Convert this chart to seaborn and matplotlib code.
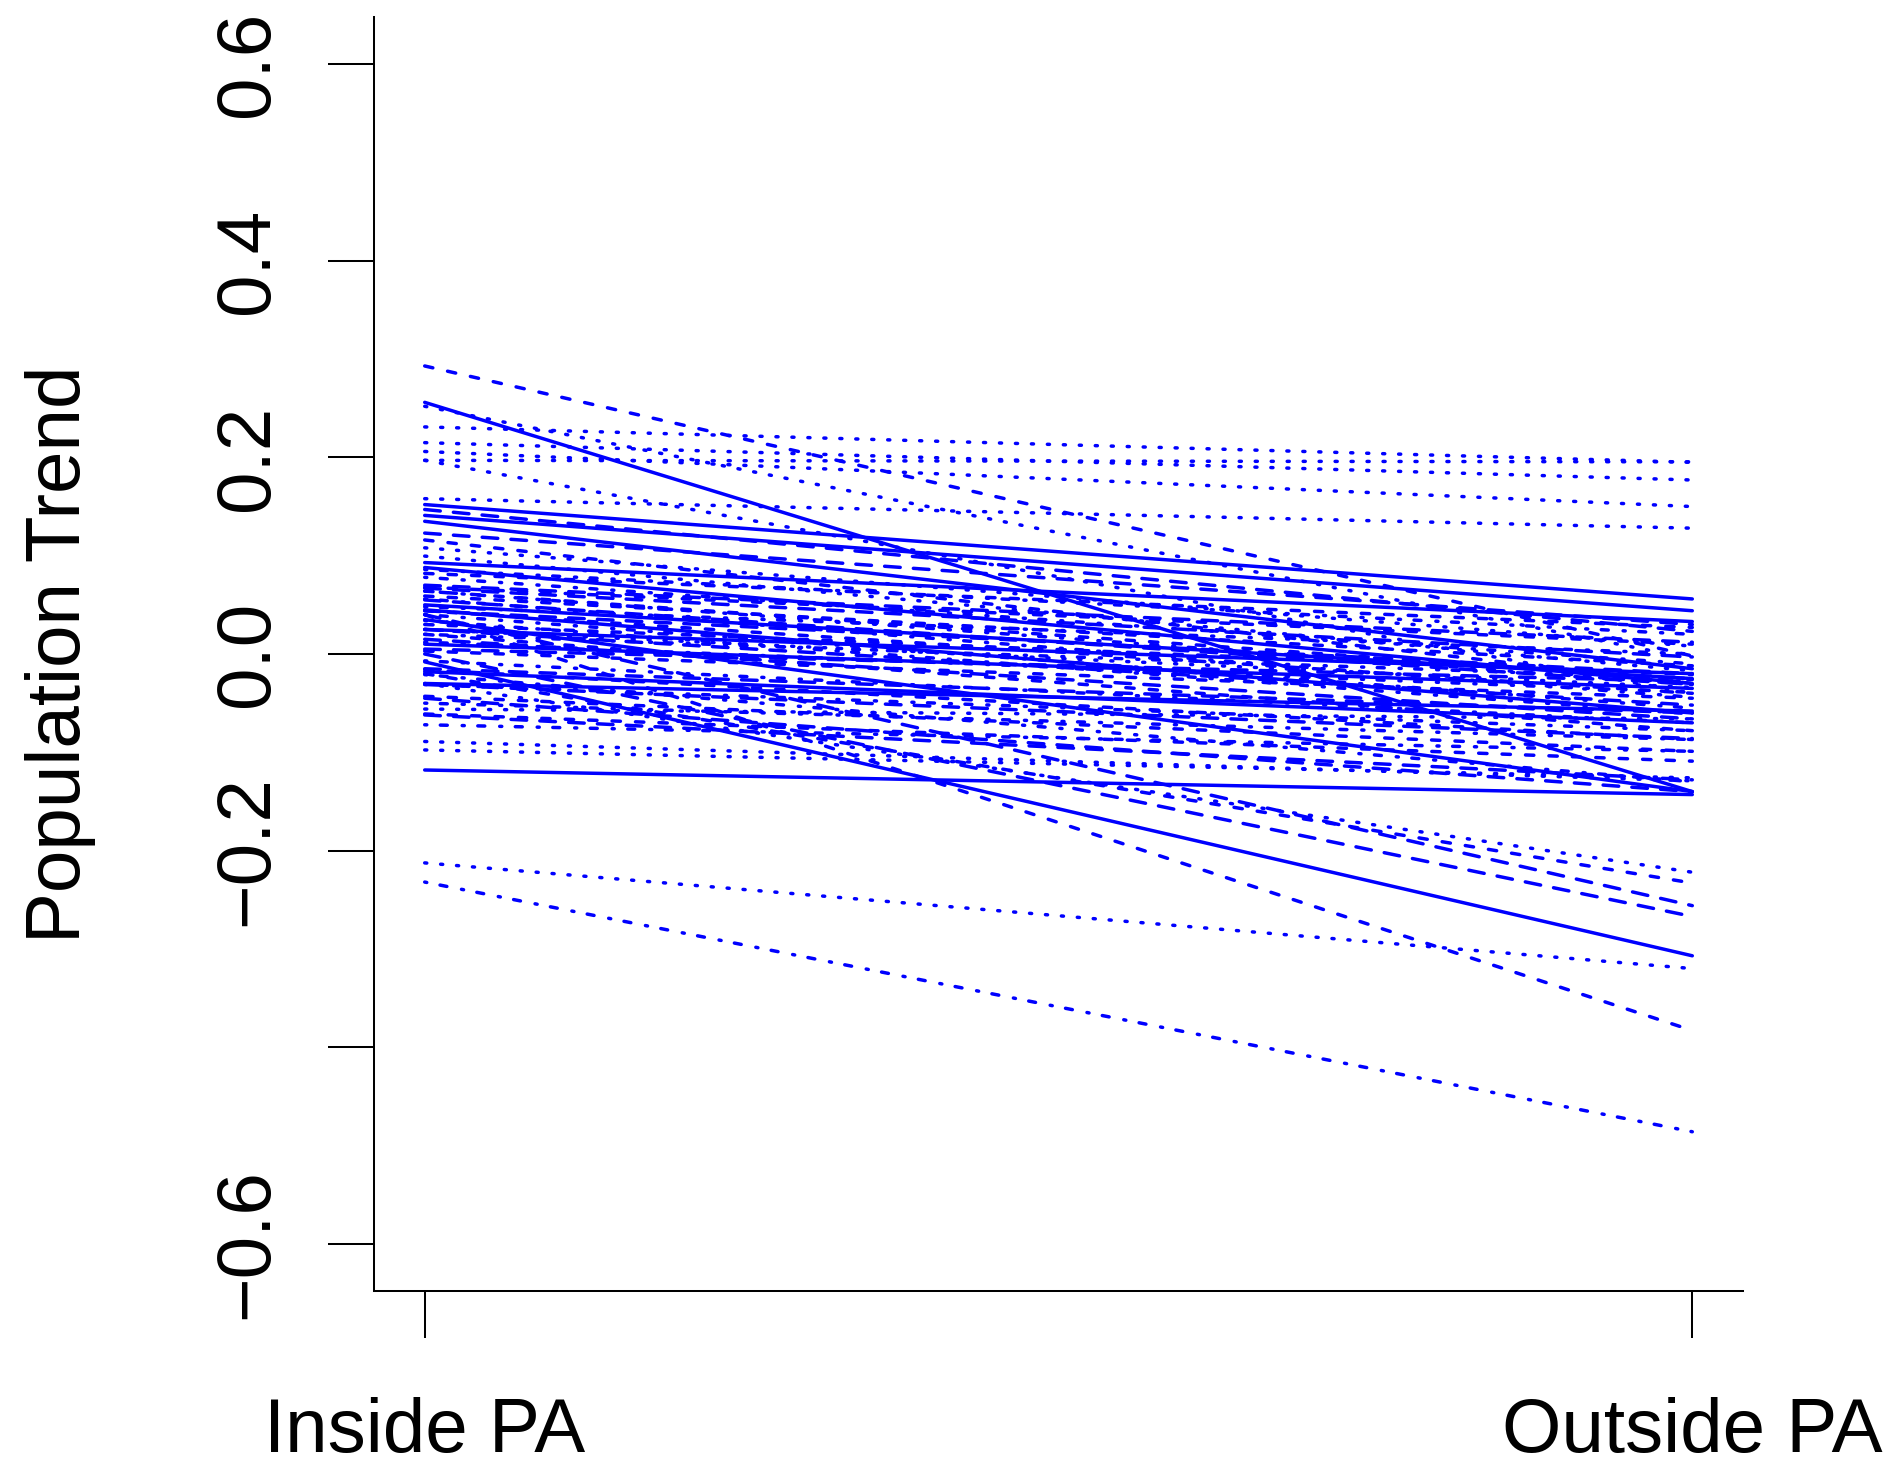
import numpy as np
import pandas as pd
import matplotlib
matplotlib.use("Agg")
import matplotlib.pyplot as plt
import seaborn as sns

# Population trend of each species inside and outside protected areas.
# Species are listed in rows of five; the line type cycles with the
# column order (solid, dashed, dotted, dot-dash, long-dash).
sites = ["Inside PA", "Outside PA"]

inside_pa = [
    0.256, 0.293, 0.231, -0.232, 0.123,
    0.152, 0.116, 0.197, 0.086, 0.040,
    0.141, 0.040, 0.215, 0.078, 0.000,
    0.135, -0.020, 0.206, 0.064, 0.147,
    0.093, 0.082, 0.158, 0.056, 0.067,
    0.088, 0.068, 0.252, 0.040, 0.055,
    0.050, 0.059, 0.197, 0.034, 0.044,
    0.045, 0.044, -0.2125, 0.012, 0.025,
    0.035, 0.030, -0.030, -0.007, 0.015,
    0.010, 0.020, 0.108, -0.031, -0.015,
    -0.008, 0.003, 0.0996, -0.050, -0.031,
    -0.018, -0.016, -0.089, -0.072, -0.045,
    -0.030, -0.043, -0.0976, -0.021, 0.070,
    -0.118, -0.061, -0.056, 0.020, 0.005,
    0.025, 0.064, 0.025, 0.048, -0.062,
]

outside_pa = [
    -0.140, -0.002, 0.195, -0.486, 0.030,
    0.056, -0.030, 0.1955, 0.020, -0.256,
    0.044, -0.383, 0.177, -0.010, -0.267,
    -0.015, -0.233, 0.150, -0.031, 0.023,
    0.033, 0.027, 0.128, -0.044, -0.003,
    -0.030, 0.010, -0.005, -0.055, -0.031,
    -0.025, -0.012, -0.040, -0.061, -0.020,
    -0.060, -0.040, -0.320, -0.039, -0.052,
    -0.140, -0.021, -0.222, -0.070, -0.066,
    -0.035, -0.078, 0.008, -0.078, -0.060,
    -0.307, -0.045, -0.017, -0.087, -0.086,
    -0.070, -0.087, -0.129, -0.099, -0.140,
    -0.058, -0.099, -0.126, -0.130, 0.012,
    -0.143, -0.109, -0.066, -0.025, -0.028,
    -0.020, -0.026, -0.034, 0.000, -0.128,
]

y_ticks = [-0.6, -0.4, -0.2, 0.0, 0.2, 0.4, 0.6]
y_tick_labels = ["\u22120.6", "", "\u22120.2", "0.0", "0.2", "0.4", "0.6"]

line_types = ["solid", "dashed", "dotted", "dotdash", "longdash"]
n_species = len(inside_pa)

df = pd.DataFrame({
    "species": np.repeat(np.arange(n_species), 2),
    "site": sites * n_species,
    "trend": np.column_stack([inside_pa, outside_pa]).ravel(),
})
df["lty"] = [line_types[s % len(line_types)] for s in df["species"]]

# dash patterns in units of line width, drawn with round caps
dash_map = {
    "solid": "",
    "dashed": (2.4, 4.35),
    "dotted": (0.6, 4.0),
    "dotdash": (0.6, 3.9, 2.0, 4.3),
    "longdash": (4.5, 3.8),
}

plt.rcParams["font.family"] = ["Liberation Sans", "DejaVu Sans"]

W, H = 1894, 1468
fig = plt.figure(figsize=(W / 100, H / 100), dpi=100)
ax = fig.add_axes([374 / W, (H - 1291) / H, (1743 - 374) / W, (1291 - 17) / H])

sns.lineplot(
    data=df, x="site", y="trend", units="species", estimator=None,
    style="lty", style_order=line_types, dashes=dash_map,
    color="#0000FF", linewidth=2.5, legend=False, sort=False, ax=ax,
    solid_capstyle="round", dash_capstyle="round",
)

ax.set_xlim(-0.04, 1.04)
ax.set_ylim(-0.648, 0.648)

ax.set_xticks([0, 1])
ax.set_xticklabels(sites)
ax.set_yticks(y_ticks)
ax.set_yticklabels(y_tick_labels, rotation=90, va="center")

for side in ("top", "right"):
    ax.spines[side].set_visible(False)
for side in ("left", "bottom"):
    ax.spines[side].set_linewidth(1.45)
    ax.spines[side].set_color("black")

ax.tick_params(axis="y", direction="out", length=33, width=1.45,
               labelsize=55, pad=32)
ax.tick_params(axis="x", direction="out", length=34, width=1.45,
               labelsize=55, pad=42)

ax.set_xlabel("")
ax.set_ylabel("Population Trend", fontsize=55, va="baseline")
ax.yaxis.set_label_coords((80 - 374) / (1743 - 374), 0.5)

fig.savefig("out.png", dpi=100, facecolor="white")
